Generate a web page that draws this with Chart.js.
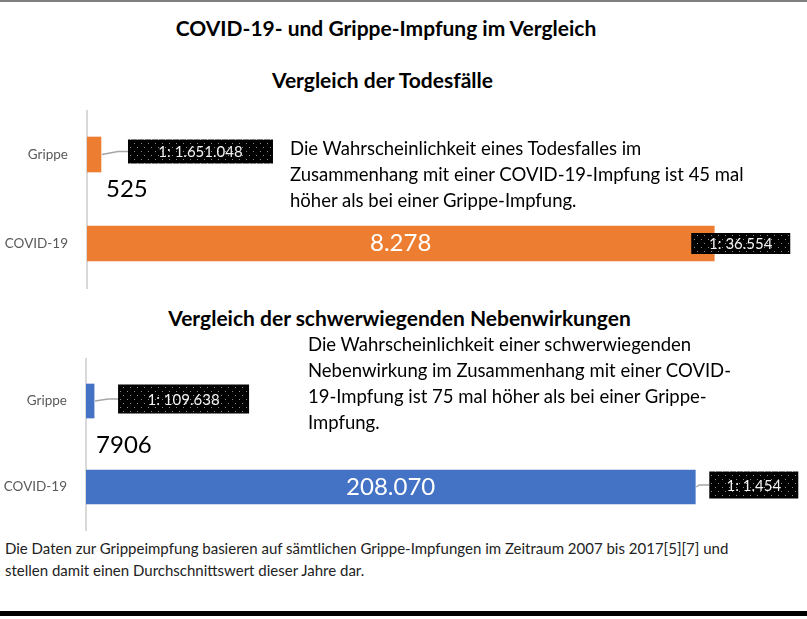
<!DOCTYPE html>
<html lang="de">
<head>
<meta charset="utf-8">
<title>COVID-19- und Grippe-Impfung im Vergleich</title>
<script src="https://cdn.jsdelivr.net/npm/chart.js@4.4.1/dist/chart.umd.min.js"></script>
<style>
    html, body { margin: 0; padding: 0; background: #fff; }
    body { width: 807px; height: 619px; position: relative; overflow: hidden; font-family: Lato, "Open Sans", sans-serif; color: #000; }
    .topline { position: absolute; left: 0; top: 0; width: 807px; height: 2px; background: #7f7f7f; }
    .bottomline { position: absolute; left: 0; top: 611px; width: 807px; height: 5px; background: #000; }
    .title { position: absolute; left: 0; width: 772px; text-align: center; font-weight: bold; font-size: 21px; line-height: 24px; white-space: nowrap; }
    .note { position: absolute; font-size: 18.5px; line-height: 26px; white-space: nowrap; }
    .foot { position: absolute; left: 5px; top: 537px; font-size: 15px; line-height: 22px; white-space: nowrap; color: #222; }
    canvas { position: absolute; left: 0; }
</style>
</head>
<body>
<div class="topline"></div>
<div class="title" style="top:16px">COVID-19- und Grippe-Impfung im Vergleich</div>

<div class="title" style="top:68px; width:765px">Vergleich der Todesfälle</div>
<canvas id="chart-deaths" width="807" height="180" style="top:110px"></canvas>
<div class="note" style="left:290px; top:135px">Die Wahrscheinlichkeit eines Todesfalles im<br>Zusammenhang mit einer COVID-19-Impfung ist 45 mal<br>höher als bei einer Grippe-Impfung.</div>

<div class="title" style="top:306px; width:799px">Vergleich der schwerwiegenden Nebenwirkungen</div>
<canvas id="chart-serious" width="807" height="174" style="top:358px"></canvas>
<div class="note" style="left:308px; top:331px">Die Wahrscheinlichkeit einer schwerwiegenden<br>Nebenwirkung im Zusammenhang mit einer COVID-<br>19-Impfung ist 75 mal höher als bei einer Grippe-<br>Impfung.</div>

<div class="foot">Die Daten zur Grippeimpfung basieren auf sämtlichen Grippe-Impfungen im Zeitraum 2007 bis 2017[5][7] und<br>stellen damit einen Durchschnittswert dieser Jahre dar.</div>
<div class="bottomline"></div>

<script>
// Vaccine comparison data
const categories = ['Grippe', 'COVID-19'];

// deaths
const deathCounts = [525, 8278];
const deathOneIn = [1651048, 36554];        // 1 death per N doses
const deathsPerMillion = [0.61, 27.36];     // bar length

// serious side effects
const seriousCounts = [7906, 208070];
const seriousOneIn = [109638, 1454];
const seriousPerMillion = [9.12, 687.8];

const COLORS = {
    orange: '#ED7D31',
    blue: '#4472C4',
    axis: '#d9d9d9',
    tick: '#595959',
    leader: '#a6a6a6'
};

// black box with a grey dot grid, like the Excel pattern fill
function makeDotPattern(ctx) {
    const c = document.createElement('canvas');
    c.width = 7;
    c.height = 8;
    const p = c.getContext('2d');
    p.fillStyle = '#000';
    p.fillRect(0, 0, 7, 8);
    p.fillStyle = '#8c8c8c';
    p.fillRect(1, 1, 1, 1);
    p.fillRect(4, 5, 1, 1);
    return ctx.createPattern(c, 'repeat');
}

const barLabels = {
    id: 'barLabels',
    afterDatasetsDraw(chart, args, opts) {
        const ctx = chart.ctx;
        const bars = chart.getDatasetMeta(0).data;
        const fmt = new Intl.NumberFormat('de-DE');
        const pattern = makeDotPattern(ctx);

        ctx.save();
        bars.forEach((bar, i) => {
            // count label: small bars get it below, long bars inside
            const count = new Intl.NumberFormat('de-DE', { useGrouping: opts.grouping[i] }).format(opts.counts[i]);
            ctx.font = '24px Lato';
            ctx.textBaseline = 'middle';
            if (opts.countInside[i]) {
                ctx.fillStyle = '#fff';
                ctx.textAlign = 'center';
                ctx.fillText(count, (bar.base + bar.x) / 2, bar.y);
            } else {
                ctx.fillStyle = '#000';
                ctx.textAlign = 'left';
                ctx.fillText(count, bar.x + opts.countOffset.dx, bar.y + opts.countOffset.dy);
            }

            // ratio label "1: N"
            const box = opts.boxes[i];
            const left = bar.x + box.dx;
            const cy = bar.y + box.dy;
            if (box.dx > 0) {
                ctx.strokeStyle = COLORS.leader;
                ctx.lineWidth = 1.5;
                ctx.beginPath();
                ctx.moveTo(bar.x + 1, bar.y);
                ctx.lineTo(left - 10, cy);
                ctx.lineTo(left, cy);
                ctx.stroke();
            }
            ctx.fillStyle = pattern;
            ctx.fillRect(left, cy - box.h / 2, box.w, box.h);
            ctx.fillStyle = '#f2f2f2';
            ctx.font = '15px Lato';
            ctx.textAlign = 'center';
            ctx.fillText('1: ' + fmt.format(opts.oneIn[i]), left + box.w / 2, cy + 1);
        });
        ctx.restore();
    }
};

function createBarChart(canvasId, values, color, xMax, axisX, thickness, labelOpts) {
    const ctx = document.getElementById(canvasId).getContext('2d');
    return new Chart(ctx, {
        type: 'bar',
        data: {
            labels: categories,
            datasets: [{
                data: values,
                backgroundColor: color,
                barThickness: thickness
            }]
        },
        options: {
            indexAxis: 'y',
            responsive: false,
            animation: false,
            layout: {
                autoPadding: false,
                padding: { top: 0, right: 7, bottom: 2, left: 0 }
            },
            plugins: {
                legend: { display: false },
                tooltip: { enabled: false },
                barLabels: labelOpts
            },
            scales: {
                x: {
                    display: false,
                    min: 0,
                    max: xMax
                },
                y: {
                    afterFit: (scale) => {
                        // fixed axis position, no extra room for half tick labels
                        scale.width = axisX;
                        scale.paddingTop = 0;
                        scale.paddingBottom = 0;
                    },
                    grid: { display: false },
                    border: { display: true, color: COLORS.axis, width: 2 },
                    ticks: {
                        color: COLORS.tick,
                        padding: 11,
                        font: { family: 'Lato', size: 13.5 }
                    }
                }
            }
        },
        plugins: [barLabels]
    });
}

createBarChart('chart-deaths', deathsPerMillion, COLORS.orange, 31.1, 87, 35, {
    counts: deathCounts,
    grouping: [true, true],
    countInside: [false, true],
    countOffset: { dx: 5, dy: 35 },
    oneIn: deathOneIn,
    boxes: [
        { dx: 27, dy: -3, w: 145, h: 24 },
        { dx: -23, dy: 0, w: 99, h: 21 }
    ]
});

createBarChart('chart-serious', seriousPerMillion, COLORS.blue, 806, 86, 34, {
    counts: seriousCounts,
    grouping: ['min2', true],
    countInside: [false, true],
    countOffset: { dx: 2, dy: 44 },
    oneIn: seriousOneIn,
    boxes: [
        { dx: 24, dy: -2, w: 131, h: 29 },
        { dx: 14, dy: -2, w: 89, h: 27 }
    ]
});
</script>
</body>
</html>
